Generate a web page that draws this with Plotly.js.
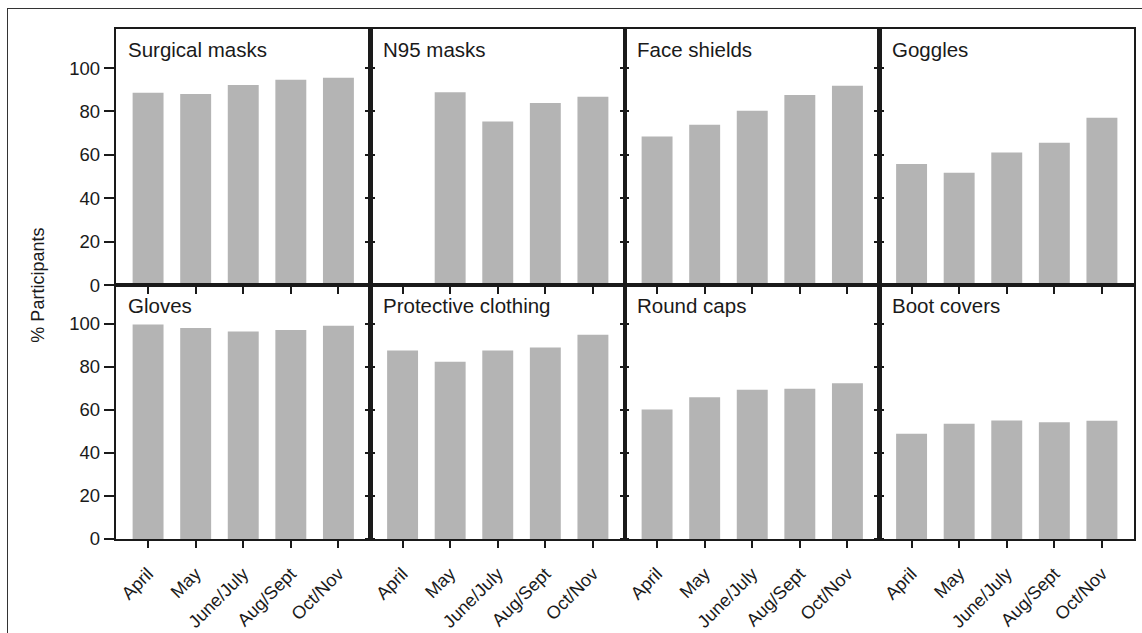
<!DOCTYPE html>
<html>
<head>
<meta charset="utf-8">
<script src="https://cdn.plot.ly/plotly-3.0.1.min.js"></script>
<style>
  html, body { margin: 0; padding: 0; background: #fff; }
  #wrap { position: relative; width: 1142px; height: 633px; overflow: hidden; }
  #frame { position: absolute; left: 7px; top: 8px; width: 1200px; height: 700px;
           border-left: 1.5px solid #333; border-top: 1.5px solid #333; pointer-events: none; z-index: 2; }
  #chart { position: absolute; left: 0; top: 0; width: 1142px; height: 633px; }
</style>
</head>
<body>
<div id="wrap">
  <div id="chart"></div>
  <div id="frame"></div>
</div>
<script>
const categories = ['April', 'May', 'June/July', 'Aug/Sept', 'Oct/Nov'];
const surgicalMasks      = [88.6, 88.0, 92.2, 94.6, 95.5];
const n95Masks           = [null, 88.8, 75.4, 83.9, 86.8];
const faceShields        = [68.5, 73.9, 80.3, 87.6, 91.8];
const goggles            = [55.8, 51.8, 61.1, 65.6, 77.1];
const gloves             = [99.7, 98.0, 96.4, 97.1, 99.1];
const protectiveClothing = [87.6, 82.4, 87.6, 89.0, 94.9];
const roundCaps          = [60.2, 65.9, 69.3, 69.8, 72.4];
const bootCovers         = [48.9, 53.6, 55.1, 54.3, 54.9];
const panelTitles = ['Surgical masks', 'N95 masks', 'Face shields', 'Goggles',
                     'Gloves', 'Protective clothing', 'Round caps', 'Boot covers'];
const yTickVals = [0, 20, 40, 60, 80, 100];
const yAxisTitle = '% Participants';

const seriesList = [surgicalMasks, n95Masks, faceShields, goggles,
                    gloves, protectiveClothing, roundCaps, bootCovers];

const FONT = 'Liberation Sans, Arial, Helvetica, sans-serif';
const INK = '#1a1a1a';
const xDomains = [[0, 0.25], [0.25, 0.5], [0.5, 0.75], [0.75, 1]];
const yDomains = [[0.498, 1], [0, 0.498]];
const idx = categories.map((_, i) => i);

const traces = [];
const layout = {
  width: 1142, height: 633,
  margin: { l: 116, r: 8, t: 29, b: 94 },
  paper_bgcolor: 'rgba(0,0,0,0)',
  plot_bgcolor: '#ffffff',
  showlegend: false,
  font: { family: FONT, color: INK, size: 17 },
  annotations: [],
  bargap: 0.35
};

seriesList.forEach((vals, k) => {
  const n = k + 1;
  const row = Math.floor(k / 4);
  const col = k % 4;
  const xa = 'x' + (n === 1 ? '' : n);
  const ya = 'y' + (n === 1 ? '' : n);
  traces.push({
    type: 'bar', x: idx, y: vals, xaxis: xa, yaxis: ya,
    width: 0.65,
    marker: { color: '#b4b4b4', line: { width: 0 } },
    hoverinfo: 'skip'
  });
  layout['xaxis' + (n === 1 ? '' : n)] = {
    domain: xDomains[col], anchor: ya,
    range: [-0.674, 4.674],
    tickvals: idx, ticktext: categories,
    showticklabels: row === 1,
    tickangle: -45,
    tickfont: { size: 18, family: FONT, color: INK },
    ticklabelstandoff: 8,
    ticks: 'outside', ticklen: 7, tickwidth: 2, tickcolor: INK,
    showline: true, linewidth: 2.2, linecolor: INK, mirror: true,
    showgrid: false, zeroline: false, fixedrange: true
  };
  layout['yaxis' + (n === 1 ? '' : n)] = {
    domain: yDomains[row], anchor: xa,
    range: [0, 118],
    tickvals: yTickVals,
    showticklabels: col === 0,
    tickfont: { size: 18.5, family: FONT, color: INK },
    ticks: 'outside', ticklen: col === 0 ? 10 : 3, tickwidth: 2, tickcolor: INK,
    ticklabelstandoff: 0,
    showline: true, linewidth: 2.2, linecolor: INK, mirror: true,
    showgrid: false, zeroline: false, fixedrange: true
  };
  layout.annotations.push({
    text: panelTitles[k], xref: xa + ' domain', yref: ya + ' domain',
    x: 0, y: 1, xanchor: 'left', yanchor: 'middle',
    xshift: 10, yshift: -20, showarrow: false,
    font: { size: 20.5, family: FONT, color: INK }
  });
});

// crossing tick halves on internal panel boundaries
let extra = 9;
seriesList.forEach((vals, k) => {
  const n = k + 1;
  const col = k % 4;
  if (col === 3) return;
  const xa = 'x' + (n === 1 ? '' : n);
  const ya = 'y' + (n === 1 ? '' : n);
  const name = 'y' + extra;
  traces.push({ type: 'bar', x: [], y: [], xaxis: xa, yaxis: name, hoverinfo: 'skip' });
  layout['yaxis' + extra] = {
    overlaying: ya, side: 'right', anchor: xa,
    range: [0, 118], tickvals: yTickVals, showticklabels: false,
    ticks: 'outside', ticklen: 3, tickwidth: 2, tickcolor: INK,
    showline: false, showgrid: false, zeroline: false, fixedrange: true
  };
  extra++;
});

layout.annotations.push({
  text: yAxisTitle, xref: 'paper', yref: 'paper',
  x: -0.077, y: 0.498, xanchor: 'center', yanchor: 'middle',
  textangle: -90, showarrow: false,
  font: { size: 18, family: FONT, color: INK }
});

Plotly.newPlot('chart', traces, layout, { staticPlot: true, displayModeBar: false });
</script>
</body>
</html>
